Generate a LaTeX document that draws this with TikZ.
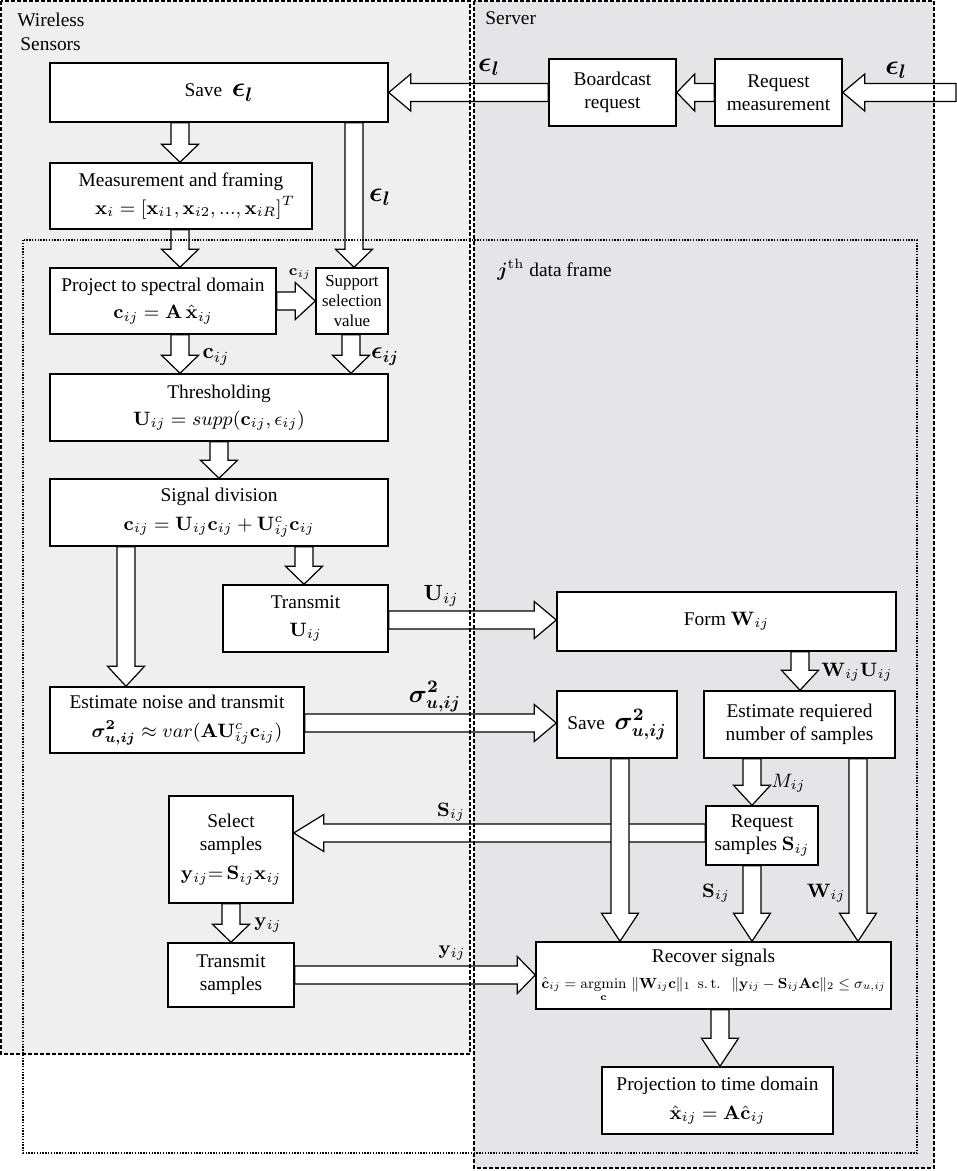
\documentclass[tikz,border=0pt]{standalone}
\usepackage{fix-cm}
\usepackage{amsmath,bm,graphicx}
\usepackage[no-math]{fontspec}
\setmainfont{Liberation Serif}
\usetikzlibrary{calc}
\pgfdeclarelayer{bg}
\pgfdeclarelayer{arr}
\pgfsetlayers{bg,arr,main}
\definecolor{wfill}{HTML}{EFEFEF}
\definecolor{sfill}{HTML}{E5E5E7}
\newcommand\blockarr[3][10pt]{%
  \draw[barr] let \p1=#2, \p2=#3, \p3=($(\p2)!#1!(\p1)$) in
    ($(\p1)!4.5pt!90:(\p2)$) -- ($(\p3)!4.5pt!90:(\p2)$) -- ($(\p3)!9.25pt!90:(\p2)$)
    -- (\p2) -- ($(\p3)!9.25pt!-90:(\p2)$) -- ($(\p3)!4.5pt!-90:(\p2)$)
    -- ($(\p1)!4.5pt!-90:(\p2)$) -- cycle;}
\newcommand\epsl{{\fontsize{14}{16}\selectfont$\bm{\epsilon_l}$}}
\begin{document}
\begin{tikzpicture}[x=0.5pt,y=-0.5pt,font=\fontsize{9.7}{11.6}\selectfont,
  box/.style={draw,line width=0.75pt,fill=white,inner sep=0pt,align=center},
  barr/.style={draw,fill=white,line width=0.6pt,line join=miter},
  regdash/.style={draw,line width=0.6pt,dash pattern=on 2pt off 1pt},
  framedot/.style={draw,line width=0.6pt,dash pattern=on 0.7pt off 0.7pt},
  lbl/.style={inner sep=0pt}]
\useasboundingbox (0,0) rectangle (957,1171);
\begin{pgfonlayer}{bg}
  \fill[wfill] (1,1) rectangle (470,1054);
  \fill[sfill] (474,1) rectangle (934,1168);
\end{pgfonlayer}
% boxes
\node[box,minimum width=169pt,minimum height=29.5pt] (save) at (219,92.5) {Save\ \ \epsl};
\node[box,minimum width=131pt,minimum height=33pt] (meas) at (181,196) {Measurement and framing\\[2pt]\hspace{14pt}$\mathbf{x}_i=[\mathbf{x}_{i1},\mathbf{x}_{i2},{...},\mathbf{x}_{iR}]^T$};
\node[box,minimum width=113pt,minimum height=33pt] (proj) at (163,301) {Project to spectral domain\\[2pt]$\mathbf{c}_{ij}=\mathbf{A}\,\hat{\mathbf{x}}_{ij}$};
\node[box,minimum width=36pt,minimum height=33pt,font=\fontsize{8.4}{10}\selectfont] (supp) at (352,301) {Support\\selection\\value};
\node[box,minimum width=169pt,minimum height=33.5pt] (thr) at (219,407.5) {Thresholding\\[2pt]$\mathbf{U}_{ij}=supp(\mathbf{c}_{ij},\epsilon_{ij})$};
\node[box,minimum width=169pt,minimum height=33.5pt] (sdiv) at (219,512.5) {Signal division\\[3pt]$\mathbf{c}_{ij}=\mathbf{U}_{ij}\mathbf{c}_{ij}+\mathbf{U}^c_{ij}\mathbf{c}_{ij}$};
\node[box,minimum width=82.5pt,minimum height=33.5pt] (tU) at (305.5,618.5) {Transmit\\[2pt]$\mathbf{U}_{ij}$};
\node[box,minimum width=127pt,minimum height=33pt] (noise) at (177,720) {Estimate noise and transmit\\[3pt]\hspace{10pt}$\bm{\sigma^2_{u,ij}}\approx var(\mathbf{A}\mathbf{U}^c_{ij}\mathbf{c}_{ij})$};
\node[box,minimum width=62pt,minimum height=53.5pt] (sel) at (231,849.5) {Select\\samples\\[3pt]$\mathbf{y}_{ij}{=}\,\mathbf{S}_{ij}\mathbf{x}_{ij}$};
\node[box,minimum width=63pt,minimum height=32pt] (tS) at (231,975) {Transmit\\samples};
\node[box,minimum width=63.5pt,minimum height=33.5pt] (bcast) at (612.5,92.5) {Boardcast\\request};
\node[box,minimum width=63.5pt,minimum height=33.5pt] (reqm) at (778.5,92.5) {Request\\measurement};
\node[box,minimum width=169.5pt,minimum height=29.5pt] (formW) at (726.5,621.5) {Form $\mathbf{W}_{ij}$};
\node[box,minimum width=60pt,minimum height=33.5pt] (saveS) at (617,724.5) {Save\ \ {\fontsize{12.5}{14}\selectfont$\bm{\sigma^2_{u,ij}}$}};
\node[box,minimum width=95.5pt,minimum height=33.5pt] (est) at (799.5,724.5) {Estimate requiered\\number of samples};
\node[box,minimum width=56pt,minimum height=29.5pt] (reqS) at (762,835.5) {Request\\samples $\mathbf{S}_{ij}$};
\node[box,minimum width=177.5pt,minimum height=33.5pt] (rec) at (713.5,975.5) {Recover signals\\[1pt]\resizebox{172pt}{!}{$\hat{\mathbf{c}}_{ij}=\mathop{\mathrm{argmin}}\limits_{\mathbf{c}}\,\|\mathbf{W}_{ij}\mathbf{c}\|_1\ \ \mathrm{s.\,t.}\ \ \ \|\mathbf{y}_{ij}-\mathbf{S}_{ij}\mathbf{A}\mathbf{c}\|_2\le\sigma_{u,ij}$}};
\node[box,minimum width=115.5pt,minimum height=33.5pt] (projT) at (717.5,1100.5) {Projection to time domain\\[3pt]$\hat{\mathbf{x}}_{ij}=\mathbf{A}\hat{\mathbf{c}}_{ij}$};
% arrows
\begin{pgfonlayer}{arr}
  \blockarr[11pt]{(reqm.east -| 956,0)}{(reqm.east)}
  \blockarr[9pt]{(reqm.west)}{(bcast.east)}
  \blockarr[11pt]{(bcast.west)}{(save.east)}
  \blockarr[9pt]{(save.south -| 180,0)}{(meas.north -| 180,0)}
  \blockarr[9pt]{(save.south -| 354,0)}{(supp.north -| 354,0)}
  \blockarr[9pt]{(meas.south -| 180,0)}{(proj.north -| 180,0)}
  \blockarr[10pt]{(proj.east)}{(supp.west |- proj.east)}
  \blockarr[9pt]{(proj.south -| 180,0)}{(thr.north -| 180,0)}
  \blockarr[9pt]{(supp.south -| 351,0)}{(thr.north -| 351,0)}
  \blockarr[9pt]{(thr.south -| 219,0)}{(sdiv.north -| 219,0)}
  \blockarr[10pt]{(sdiv.south -| 126,0)}{(noise.north -| 126,0)}
  \blockarr[9pt]{(sdiv.south -| 304,0)}{(tU.north -| 304,0)}
  \blockarr[11pt]{(tU.east |- 0,620)}{(formW.west |- 0,620)}
  \blockarr[11pt]{(noise.east |- 0,723)}{(saveS.west |- 0,723)}
  \blockarr[10pt]{(formW.south -| 800,0)}{(est.north -| 800,0)}
  \blockarr[10pt]{(est.south -| 752,0)}{(reqS.north -| 752,0)}
  \blockarr[15pt]{(reqS.west |- 0,833)}{(sel.east |- 0,833)}
  \blockarr[14pt]{(saveS.south -| 620,0)}{(rec.north -| 620,0)}
  \blockarr[14pt]{(reqS.south -| 752,0)}{(rec.north -| 752,0)}
  \blockarr[14pt]{(est.south -| 858,0)}{(rec.north -| 858,0)}
  \blockarr[9pt]{(sel.south -| 231,0)}{(tS.north -| 231,0)}
  \blockarr[9pt]{(tS.east |- 0,975)}{(rec.west |- 0,975)}
  \blockarr[14pt]{(rec.south -| 720,0)}{(projT.north -| 720,0)}
\end{pgfonlayer}
% region borders
\draw[regdash] (1,1) rectangle (470,1054);
\draw[regdash] (474,1) rectangle (934,1168);
\draw[framedot] (23,240) rectangle (917,1153);
% region labels
\node[lbl,anchor=north west,align=left] (wl) at (17,13) {Wireless\\\hspace{1.5pt}Sensors};
\node[lbl,anchor=base west] (sl) at (485,25) {Server};
\node[lbl,anchor=base west] (jl) at (497,277) {$\bm{j}^{\mathrm{th}}$ data frame};
% connector labels
\node[lbl] (le1) at (896,70) {\epsl};
\node[lbl] (le2) at (489,67) {\epsl};
\node[lbl] (le3) at (380,197) {\epsl};
\node[lbl,font=\fontsize{7.5}{8}\selectfont] (lc1) at (300,274) {$\mathbf{c}_{ij}$};
\node[lbl,font=\fontsize{11}{12}\selectfont] (lc2) at (216,357) {$\mathbf{c}_{ij}$};
\node[lbl,font=\fontsize{12}{13}\selectfont] (leij) at (385,357) {$\bm{\epsilon_{ij}}$};
\node[lbl,font=\fontsize{11}{12}\selectfont] (lU) at (441,596) {$\mathbf{U}_{ij}$};
\node[lbl,font=\fontsize{12.5}{14}\selectfont] (lsig) at (435,697) {$\bm{\sigma^2_{u,ij}}$};
\node[lbl,anchor=west] (lWU) at (821,672) {$\mathbf{W}_{ij}\mathbf{U}_{ij}$};
\node[lbl,anchor=west] (lM) at (771,783) {$M_{ij}$};
\node[lbl] (lS1) at (451,812) {$\mathbf{S}_{ij}$};
\node[lbl,anchor=west] (ly1) at (254,925) {$\mathbf{y}_{ij}$};
\node[lbl] (ly2) at (452,953) {$\mathbf{y}_{ij}$};
\node[lbl] (lS2) at (716,893) {$\mathbf{S}_{ij}$};
\node[lbl] (lW) at (826,893) {$\mathbf{W}_{ij}$};
\end{tikzpicture}
\end{document}
